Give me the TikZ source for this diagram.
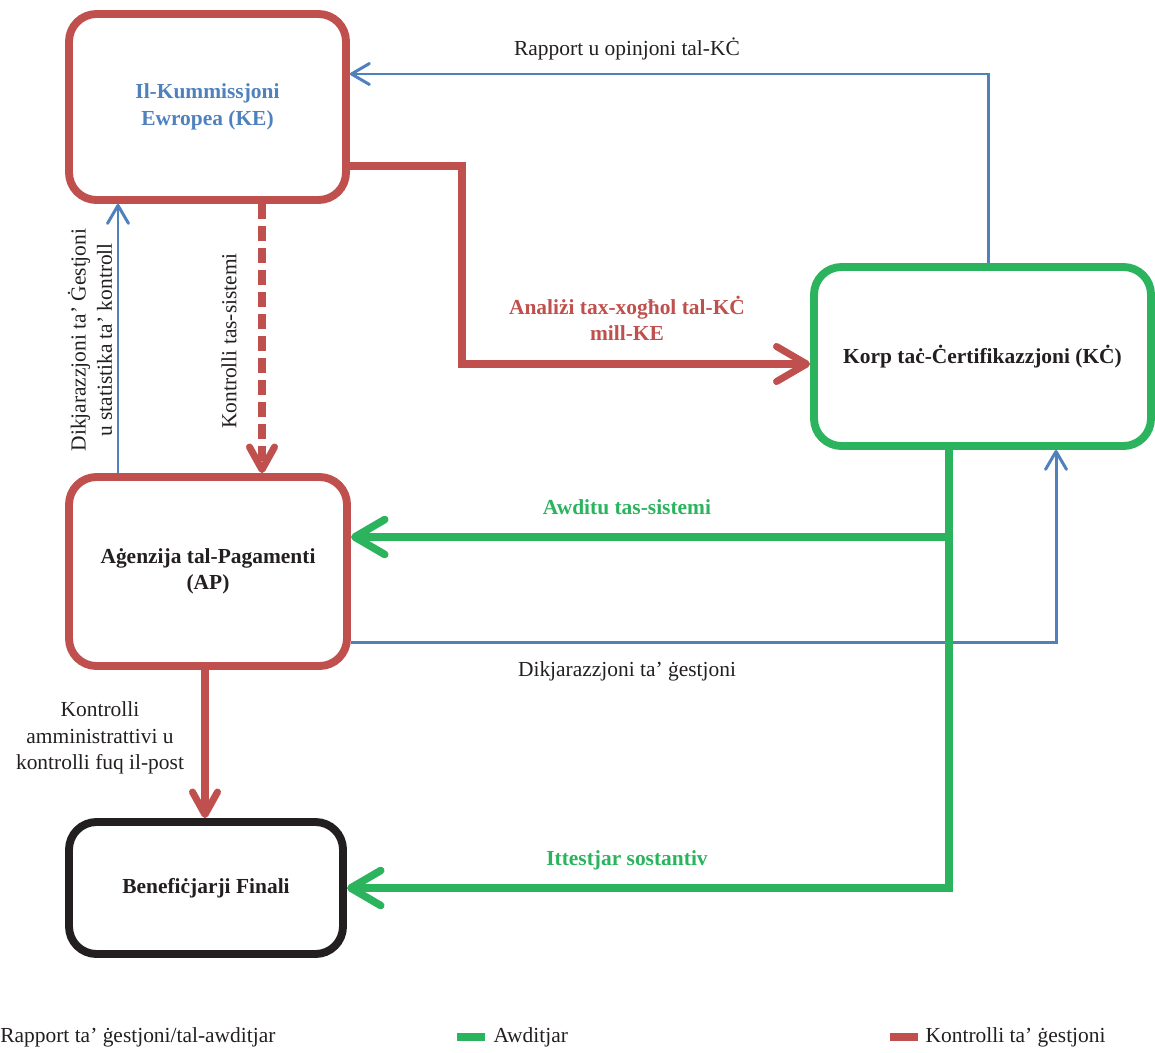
\documentclass[tikz,border=0pt]{standalone}
\usepackage{fontspec}
\setmainfont{Liberation Serif}
\usepackage{xcolor}
\usetikzlibrary{arrows.meta,positioning}
\definecolor{mtred}{RGB}{192,80,77}
\definecolor{mtgreen}{RGB}{43,179,94}
\definecolor{mtblue}{RGB}{79,129,189}
\definecolor{mtblack}{RGB}{35,31,32}
\newcommand{\dfont}{\fontsize{12.2}{15}\selectfont}

\begin{document}
\begin{tikzpicture}[
    box/.style={rectangle, draw, line width=4.5pt, rounded corners=0.55cm,
                font=\dfont\bfseries, text=mtblack, align=center},
    ctrl/.style={mtred, line width=4pt},
    aud/.style={mtgreen, line width=4.3pt},
    rep/.style={mtblue, line width=1.7pt},
    bigtip/.style={-{Straight Barb[length=6mm,width=7mm,round]}},
    midtip/.style={-{Straight Barb[length=4.5mm,width=5mm,round]}},
    thintip/.style={-{Straight Barb[length=3.6mm,width=4.2mm,round]}},
    lbl/.style={font=\dfont, text=mtblack, align=center},
  ]
  \useasboundingbox (0,0) rectangle (23.1,-21.04);

  % Il-Kummissjoni Ewropea
  \node[box, draw=mtred, text=mtblue, minimum width=5.54cm, minimum height=3.72cm]
    (KE) at (4.15,-2.14) {Il-Kummissjoni\\Ewropea (KE)};

  % Aġenzija tal-Pagamenti
  \node[box, draw=mtred, minimum width=5.56cm, minimum height=3.78cm]
    (AP) at (4.16,-11.43) {Aġenzija tal-Pagamenti\\(AP)};

  % Benefiċjarji Finali
  \node[box, draw=mtblack, minimum width=5.48cm, minimum height=2.64cm]
    (BF) at (4.12,-17.76) {Benefiċjarji Finali};

  % Korp taċ-Ċertifikazzjoni
  \node[box, draw=mtgreen, minimum width=6.74cm, minimum height=3.58cm]
    (KC) at (19.65,-7.13) {Korp taċ-Ċertifikazzjoni (KĊ)};

  % Punti tal-linji
  \coordinate (toprow) at (0,-1.48);
  \coordinate (kerow) at (0,-3.32);
  \coordinate (kcrow) at (0,-7.28);
  \coordinate (audrow) at (0,-10.74);
  \coordinate (dikrow) at (0,-12.84);
  \coordinate (kcup) at (19.76,0);
  \coordinate (redcol) at (9.24,0);
  \coordinate (bluecol) at (2.36,0);
  \coordinate (dashcol) at (5.24,0);
  \coordinate (grncol) at (18.98,0);
  \coordinate (kcdown) at (21.12,0);
  \coordinate (apdown) at (4.10,0);

  % Rapport u opinjoni
  \draw[rep, thintip] (KC.north -| kcup) |- (KE.east |- toprow);
  \node[lbl] (rapkc) at (12.54,-0.98) {Rapport u opinjoni tal-KĊ};

  % Analizi
  \draw[ctrl, bigtip] (KE.east |- kerow) -| (redcol |- kcrow) -- (KC.west |- kcrow);
  \node[lbl, font=\dfont\bfseries, text=mtred] (analizi) at (12.54,-6.36)
    {Analiżi tax-xogħol tal-KĊ\\mill-KE};

  % Dikjarazzjoni u statistika
  \draw[rep, thintip] (AP.north -| bluecol) -- (KE.south -| bluecol);
  \node[lbl, rotate=90] (dikstat) at (1.80,-6.8)
    {Dikjarazzjoni ta’ Ġestjoni\\u statistika ta’ kontroll};

  % Kontrolli tas-sistemi
  \draw[ctrl, midtip, dash pattern=on 0.3cm off 0.14cm]
    (KE.south -| dashcol) -- (AP.north -| dashcol);
  \node[lbl, rotate=90] (kontsis) at (4.58,-6.82) {Kontrolli tas-sistemi};

  % Dikjarazzjoni ta' gestjoni
  \draw[rep, thintip] (AP.east |- dikrow) -| (KC.south -| kcdown);
  \node[lbl] (dikges) at (12.54,-13.42) {Dikjarazzjoni ta’ ġestjoni};

  % Awditu
  \draw[aud, bigtip] (KC.south -| grncol) |- (BF.east);
  \draw[aud, bigtip] (grncol |- audrow) -- (AP.east |- audrow);
  \node[lbl, font=\dfont\bfseries, text=mtgreen] (awditu) at (12.54,-10.14)
    {Awditu tas-sistemi};
  \node[lbl, font=\dfont\bfseries, text=mtgreen] (ittest) at (12.54,-17.2)
    {Ittestjar sostantiv};

  % Kontrolli amministrattivi
  \draw[ctrl, midtip] (AP.south -| apdown) -- (BF.north -| apdown);
  \node[lbl] (kontamm) at (2.0,-14.76)
    {Kontrolli\\amministrattivi u\\kontrolli fuq il-post};

  % Legenda
  \node[lbl, anchor=west, inner sep=0pt] (legrep) at (0,-20.74)
    {Rapport ta’ ġestjoni/tal-awditjar};
  \node[fill=mtgreen, minimum width=0.56cm, minimum height=0.15cm, inner sep=0pt]
    (legaud) at (9.42,-20.74) {};
  \node[lbl, right=0.16cm of legaud, inner sep=0pt] (legaudt) {Awditjar};
  \node[fill=mtred, minimum width=0.56cm, minimum height=0.15cm, inner sep=0pt]
    (legctrl) at (18.08,-20.74) {};
  \node[lbl, right=0.14cm of legctrl, inner sep=0pt] (legctrlt) {Kontrolli ta’ ġestjoni};
\end{tikzpicture}
\end{document}
